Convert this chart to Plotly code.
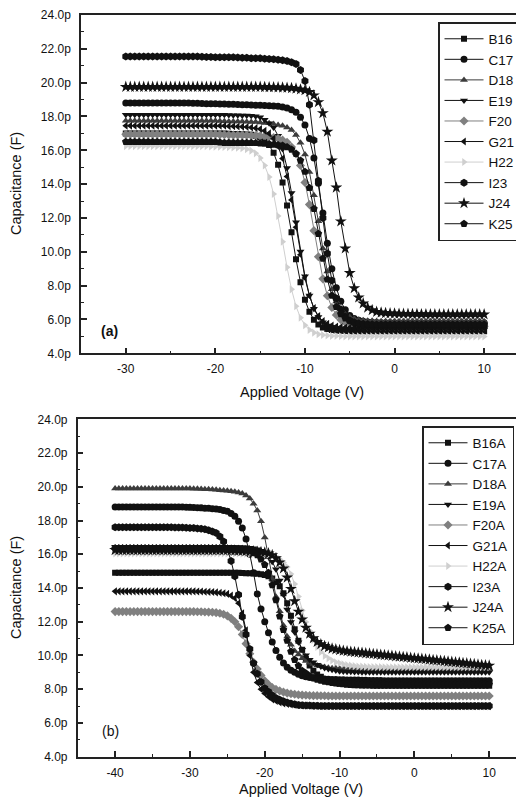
import plotly.graph_objects as go

# ---------------- Panel (a) data : voltage every 0.5 V from -30 to 10 ----------------
V_A = [-30, -29.5, -29, -28.5, -28, -27.5, -27, -26.5, -26, -25.5, -25, -24.5, -24, -23.5, -23, -22.5,
       -22, -21.5, -21, -20.5, -20, -19.5, -19, -18.5, -18, -17.5, -17, -16.5, -16, -15.5, -15,
       -14.5, -14, -13.5, -13, -12.5, -12, -11.5, -11, -10.5, -10, -9.5, -9, -8.5, -8, -7.5, -7,
       -6.5, -6, -5.5, -5, -4.5, -4, -3.5, -3, -2.5, -2, -1.5, -1, -0.5, 0, 0.5, 1, 1.5, 2, 2.5,
       3, 3.5, 4, 4.5, 5, 5.5, 6, 6.5, 7, 7.5, 8, 8.5, 9, 9.5, 10]

B16 = [17.0, 17.0, 17.0, 17.0, 17.0, 17.0, 17.0, 17.0, 17.0, 17.0,
       17.0, 17.0, 17.0, 17.0, 17.0, 17.0, 17.0, 17.0, 17.0, 17.0,
       17.0, 17.0, 17.0,
       16.98, 16.97, 16.96, 16.95, 16.94, 16.92, 16.86, 16.77,
       16.6, 16.31, 15.85, 15.14, 14.10, 12.74, 11.15, 9.56, 8.20, 7.16, 6.45, 5.99, 5.70, 5.53, 5.44,
       5.38, 5.35, 5.33, 5.32, 5.31, 5.30, 5.30,
       5.3, 5.3, 5.3, 5.3, 5.3, 5.3, 5.3, 5.3, 5.3, 5.3,
       5.3, 5.3, 5.3, 5.3, 5.3, 5.3, 5.3, 5.3, 5.3, 5.3,
       5.3, 5.3, 5.3, 5.3, 5.3, 5.3, 5.3, 5.3]
C17 = [18.8, 18.8, 18.8, 18.8, 18.8, 18.8, 18.8, 18.8, 18.8, 18.8,
       18.8, 18.8, 18.8, 18.8, 18.8,
       18.79, 18.78, 18.77, 18.76, 18.75, 18.75, 18.74, 18.74, 18.73, 18.72, 18.71, 18.7, 18.69, 18.68,
       18.67, 18.66,
       18.65, 18.64, 18.62, 18.6, 18.56, 18.5, 18.4, 18.25, 17.95, 17.5, 16.7, 15.55, 14.05, 12.3, 10.5,
       9.0, 7.87, 7.07, 6.57, 6.24, 6.06, 5.96,
       5.9, 5.85, 5.83, 5.82, 5.81, 5.81, 5.8,
       5.8, 5.8, 5.8, 5.8, 5.8, 5.8, 5.8, 5.8, 5.8, 5.8,
       5.8, 5.8, 5.8, 5.8, 5.8, 5.8, 5.8, 5.8, 5.8, 5.8, 5.8]
D18 = [17.75, 17.75, 17.75, 17.75, 17.75, 17.75, 17.75, 17.75, 17.75, 17.75,
       17.75, 17.75, 17.75, 17.75, 17.75, 17.75, 17.75, 17.75, 17.75, 17.75, 17.75,
       17.73, 17.72, 17.71, 17.7, 17.7, 17.7, 17.69, 17.68, 17.67, 17.65,
       17.62, 17.6, 17.55, 17.5, 17.45, 17.35, 17.2, 16.9, 16.45, 15.75, 14.72, 13.35, 11.8, 10.2, 8.83,
       7.78, 7.06, 6.6, 6.3, 6.14, 6.04, 5.98,
       5.95, 5.93, 5.92, 5.91, 5.9,
       5.9, 5.9, 5.9, 5.9, 5.9, 5.9, 5.9, 5.9, 5.9, 5.9,
       5.9, 5.9, 5.9, 5.9, 5.9, 5.9, 5.9, 5.9, 5.9, 5.9, 5.9, 5.9, 5.9]
E19 = [18.1, 18.1, 18.1, 18.1, 18.1, 18.1, 18.1, 18.1, 18.1, 18.1,
       18.1, 18.1, 18.1, 18.1, 18.1, 18.1, 18.1, 18.1, 18.1, 18.1,
       18.1, 18.1, 18.1,
       18.09, 18.08, 18.07, 18.06, 18.06, 18.05, 18.02, 17.95,
       17.8, 17.6, 17.35, 16.86, 16.08, 14.95, 13.48, 11.75, 10.02, 8.55, 7.42, 6.64, 6.15, 5.83, 5.65,
       5.55, 5.49, 5.45, 5.43, 5.42, 5.41, 5.4,
       5.4, 5.4, 5.4, 5.4, 5.4, 5.4, 5.4, 5.4, 5.4, 5.4,
       5.4, 5.4, 5.4, 5.4, 5.4, 5.4, 5.4, 5.4, 5.4, 5.4,
       5.4, 5.4, 5.4, 5.4, 5.4, 5.4, 5.4, 5.4]
F20 = [16.95, 16.95, 16.95, 16.95, 16.95, 16.95, 16.95, 16.95, 16.95, 16.95,
       16.95, 16.95, 16.95, 16.95, 16.95, 16.95, 16.95, 16.95, 16.95, 16.95, 16.95,
       16.93, 16.92, 16.91, 16.9, 16.9, 16.9, 16.89, 16.88, 16.87, 16.85,
       16.83, 16.8, 16.75, 16.7, 16.6, 16.48, 16.2, 15.79, 15.1, 14.1, 12.79, 11.25, 9.71, 8.4, 7.4,
       6.71, 6.27, 5.98, 5.83, 5.74, 5.68, 5.65,
       5.63, 5.62, 5.61, 5.61,
       5.6, 5.6, 5.6, 5.6, 5.6, 5.6, 5.6, 5.6, 5.6, 5.6,
       5.6, 5.6, 5.6, 5.6, 5.6, 5.6, 5.6, 5.6, 5.6, 5.6, 5.6, 5.6, 5.6, 5.6]
G21 = [17.45, 17.45, 17.45, 17.45, 17.45, 17.45, 17.45, 17.45, 17.45, 17.45,
       17.45, 17.45, 17.45, 17.45, 17.45, 17.45, 17.45, 17.45, 17.45, 17.45,
       17.45, 17.45, 17.45,
       17.43, 17.42, 17.41, 17.4, 17.38, 17.35, 17.31, 17.26,
       17.15, 17.0, 16.7, 16.23, 15.51, 14.45, 13.07, 11.45, 9.83, 8.45, 7.4, 6.67, 6.2, 5.9, 5.74,
       5.64, 5.58, 5.55, 5.53, 5.52, 5.51, 5.5,
       5.5, 5.5, 5.5, 5.5, 5.5, 5.5, 5.5, 5.5, 5.5, 5.5,
       5.5, 5.5, 5.5, 5.5, 5.5, 5.5, 5.5, 5.5, 5.5, 5.5,
       5.5, 5.5, 5.5, 5.5, 5.5, 5.5, 5.5, 5.5]
H22 = [16.25, 16.25, 16.25, 16.25, 16.25, 16.25, 16.25, 16.25, 16.25, 16.25,
       16.25, 16.25, 16.25, 16.25, 16.25, 16.25, 16.25, 16.25, 16.25,
       16.23, 16.22, 16.21, 16.2, 16.19, 16.17, 16.15, 16.12, 16.07, 15.98, 15.82, 15.54,
       15.1, 14.42, 13.42, 12.12, 10.6, 9.08, 7.78, 6.78, 6.1, 5.66, 5.38, 5.22, 5.13, 5.08, 5.05,
       5.03, 5.02, 5.01, 5.0, 5.0, 5.0, 5.0,
       5.0, 5.0, 5.0, 5.0, 5.0, 5.0, 5.0, 5.0, 5.0, 5.0,
       5.0, 5.0, 5.0, 5.0, 5.0, 5.0, 5.0, 5.0, 5.0, 5.0,
       5.0, 5.0, 5.0, 5.0, 5.0, 5.0, 5.0, 5.0]
I23 = [21.55, 21.55, 21.55, 21.55, 21.55, 21.55, 21.55, 21.55, 21.55, 21.55,
       21.55, 21.55, 21.55, 21.55, 21.55, 21.55, 21.55,
       21.53, 21.52, 21.51, 21.5, 21.5, 21.5, 21.5, 21.5, 21.49, 21.48, 21.47, 21.45, 21.45, 21.45,
       21.42, 21.4, 21.38, 21.35, 21.32, 21.28, 21.2, 21.1, 20.75, 20.1, 18.7, 16.6, 14.2, 12.0, 9.9,
       8.3, 7.25, 6.6, 6.18, 5.94, 5.8, 5.72,
       5.68, 5.65, 5.63, 5.62, 5.61, 5.61,
       5.6, 5.6, 5.6, 5.6, 5.6, 5.6, 5.6, 5.6, 5.6, 5.6,
       5.6, 5.6, 5.6, 5.6, 5.6, 5.6, 5.6, 5.6, 5.6, 5.6, 5.6, 5.6]
J24 = [19.75, 19.75, 19.75, 19.75, 19.75, 19.75, 19.75, 19.75, 19.75, 19.75,
       19.75, 19.75, 19.75, 19.75, 19.75, 19.75, 19.75, 19.75, 19.75, 19.75,
       19.75, 19.75, 19.75, 19.75, 19.75, 19.75, 19.75, 19.75, 19.75, 19.75, 19.75,
       19.74, 19.73, 19.73, 19.72, 19.71, 19.7, 19.68, 19.65, 19.6, 19.55, 19.45, 19.25, 18.85, 18.2,
       17.1, 15.4, 13.8, 11.8, 10.2, 8.75, 7.85, 7.3,
       6.95, 6.7, 6.55, 6.45, 6.41, 6.38, 6.36, 6.35, 6.34, 6.33, 6.33, 6.32, 6.32, 6.31, 6.31,
       6.3, 6.3, 6.3, 6.3, 6.3, 6.3, 6.3, 6.3, 6.3, 6.3, 6.3, 6.3, 6.3]
K25 = [16.5, 16.5, 16.5, 16.5, 16.5, 16.5, 16.5, 16.5, 16.5, 16.5,
       16.5, 16.5, 16.5, 16.5, 16.5, 16.5, 16.5, 16.5, 16.5, 16.5, 16.5,
       16.47, 16.45, 16.45, 16.45, 16.45, 16.45, 16.45, 16.45, 16.44, 16.42,
       16.4, 16.38, 16.35, 16.32, 16.28, 16.2, 16.05, 15.8, 15.4, 14.74, 13.78, 12.54, 11.07, 9.61, 8.37,
       7.41, 6.75, 6.33, 6.07, 5.91, 5.83, 5.78,
       5.75, 5.73, 5.72, 5.71, 5.7,
       5.7, 5.7, 5.7, 5.7, 5.7, 5.7, 5.7, 5.7, 5.7, 5.7,
       5.7, 5.7, 5.7, 5.7, 5.7, 5.7, 5.7, 5.7, 5.7, 5.7, 5.7, 5.7, 5.7]

# ---------------- Panel (b) data : voltage every 0.5 V from -40 to 10 ----------------
V_B = [-40, -39.5, -39, -38.5, -38, -37.5, -37, -36.5, -36, -35.5, -35, -34.5, -34, -33.5, -33,
       -32.5, -32, -31.5, -31, -30.5, -30, -29.5, -29, -28.5, -28, -27.5, -27, -26.5, -26, -25.5,
       -25, -24.5, -24, -23.5, -23, -22.5, -22, -21.5, -21, -20.5, -20, -19.5, -19, -18.5, -18,
       -17.5, -17, -16.5, -16, -15.5, -15, -14.5, -14, -13.5, -13, -12.5, -12, -11.5, -11, -10.5,
       -10, -9.5, -9, -8.5, -8, -7.5, -7, -6.5, -6, -5.5, -5, -4.5, -4, -3.5, -3, -2.5, -2, -1.5,
       -1, -0.5, 0, 0.5, 1, 1.5, 2, 2.5, 3, 3.5, 4, 4.5, 5, 5.5, 6, 6.5, 7, 7.5, 8, 8.5, 9, 9.5, 10]

B16A = [14.9, 14.9, 14.9, 14.9, 14.9, 14.9, 14.9, 14.9, 14.9, 14.9,
        14.9, 14.9, 14.9, 14.9, 14.9, 14.9, 14.9, 14.9, 14.9, 14.9,
        14.9, 14.9, 14.9, 14.9, 14.9, 14.9, 14.9, 14.9, 14.9, 14.9,
        14.9, 14.9, 14.9,
        14.9, 14.89, 14.88, 14.87, 14.86, 14.85, 14.82, 14.77, 14.69, 14.57,
        14.36, 14.1, 13.69, 13.09, 12.35, 11.55, 10.88, 10.34, 9.81, 9.41,
        9.1, 8.87, 8.74, 8.6, 8.5, 8.43, 8.38, 8.33, 8.3, 8.27, 8.25, 8.23,
        8.23, 8.22, 8.22, 8.22, 8.21, 8.21, 8.21, 8.2,
        8.2, 8.2, 8.2, 8.2, 8.2, 8.2, 8.2, 8.2, 8.2, 8.2,
        8.2, 8.2, 8.2, 8.2, 8.2, 8.2, 8.2, 8.2, 8.2, 8.2,
        8.2, 8.2, 8.2, 8.2, 8.2, 8.2, 8.2, 8.2]
C17A = [18.8, 18.8, 18.8, 18.8, 18.8, 18.8, 18.8, 18.8, 18.8, 18.8,
        18.8, 18.8, 18.8, 18.8, 18.8, 18.8, 18.8, 18.8, 18.8,
        18.79, 18.78, 18.77, 18.76, 18.75, 18.73, 18.72, 18.7, 18.68, 18.65,
        18.6, 18.55, 18.42, 18.25, 17.95, 17.55, 16.9, 16.0, 14.9, 13.65,
        12.75, 12.0, 11.35, 10.8, 10.3, 9.9, 9.55, 9.3, 9.12, 9.0,
        8.88, 8.8, 8.74, 8.7, 8.67, 8.65, 8.62, 8.6, 8.59, 8.58,
        8.57, 8.56, 8.56, 8.55, 8.55, 8.54, 8.54, 8.53, 8.53, 8.52,
        8.52, 8.51, 8.51, 8.5,
        8.5, 8.5, 8.5, 8.5, 8.5, 8.5, 8.5, 8.5, 8.5, 8.5,
        8.5, 8.5, 8.5, 8.5, 8.5, 8.5, 8.5, 8.5, 8.5, 8.5,
        8.5, 8.5, 8.5, 8.5, 8.5, 8.5, 8.5, 8.5]
D18A = [19.9, 19.9, 19.9, 19.9, 19.9, 19.9, 19.9, 19.9, 19.9, 19.9,
        19.9, 19.9, 19.9, 19.9, 19.9, 19.9, 19.9, 19.9, 19.9, 19.9, 19.9,
        19.89, 19.88, 19.87, 19.86, 19.85, 19.84, 19.82, 19.8, 19.78, 19.76,
        19.73, 19.7, 19.66, 19.6, 19.48, 19.3, 19.0, 18.6, 17.95, 17.0,
        15.83, 14.55, 13.48, 12.62, 11.77, 11.13, 10.64, 10.27, 10.06, 9.84,
        9.68, 9.57, 9.49, 9.41, 9.36, 9.31, 9.28, 9.25, 9.24, 9.23,
        9.23, 9.22, 9.22, 9.22, 9.21, 9.21, 9.21, 9.21, 9.2, 9.2,
        9.2, 9.2,
        9.2, 9.2, 9.2, 9.2, 9.2, 9.2, 9.2, 9.2, 9.2, 9.2,
        9.2, 9.2, 9.2, 9.2, 9.2, 9.2, 9.2, 9.2, 9.2, 9.2,
        9.2, 9.2, 9.2, 9.2, 9.2, 9.2, 9.2, 9.2]
E19A = [16.45, 16.45, 16.45, 16.45, 16.45, 16.45, 16.45, 16.45, 16.45, 16.45,
        16.45, 16.45, 16.45, 16.45, 16.45, 16.45, 16.45, 16.45, 16.45, 16.45,
        16.45, 16.45, 16.45, 16.45, 16.45, 16.45, 16.45, 16.45, 16.45,
        16.45, 16.44, 16.44, 16.43, 16.43, 16.42, 16.41, 16.39, 16.36, 16.3,
        16.21, 16.08, 15.85, 15.56, 15.11, 14.44, 13.62, 12.72, 11.98, 11.38,
        10.79, 10.34, 10.01, 9.74, 9.6, 9.45, 9.34, 9.26, 9.2, 9.15,
        9.11, 9.07, 9.05, 9.04, 9.03, 9.02, 9.02, 9.01, 9.01, 9.01,
        9.0, 9.0, 9.0, 9.0,
        9.0, 9.0, 9.0, 9.0, 9.0, 9.0, 9.0, 9.0, 9.0, 9.0,
        9.0, 9.0, 9.0, 9.0, 9.0, 9.0, 9.0, 9.0, 9.0, 9.0,
        9.0, 9.0, 9.0, 9.0, 9.0, 9.0, 9.0, 9.0]
F20A = [12.6, 12.6, 12.6, 12.6, 12.6, 12.6, 12.6, 12.6, 12.6, 12.6,
        12.6, 12.6, 12.6, 12.6, 12.6, 12.6, 12.6, 12.6, 12.6, 12.6, 12.6,
        12.6, 12.59, 12.59, 12.58, 12.57, 12.56, 12.54, 12.5, 12.44, 12.35,
        12.2, 12.0, 11.7, 11.25, 10.7, 10.1, 9.6, 9.2, 8.82, 8.5,
        8.28, 8.1, 7.99, 7.9, 7.83, 7.77, 7.73, 7.7, 7.67, 7.65,
        7.64, 7.63, 7.62, 7.62, 7.61, 7.61, 7.6, 7.6,
        7.6, 7.6, 7.6, 7.6, 7.6, 7.6, 7.6, 7.6, 7.6, 7.6,
        7.6, 7.6, 7.6, 7.6, 7.6, 7.6, 7.6, 7.6, 7.6, 7.6,
        7.6, 7.6, 7.6, 7.6, 7.6, 7.6, 7.6, 7.6, 7.6, 7.6,
        7.6, 7.6, 7.6, 7.6, 7.6, 7.6, 7.6, 7.6, 7.6, 7.6,
        7.6, 7.6]
G21A = [13.8, 13.8, 13.8, 13.8, 13.8, 13.8, 13.8, 13.8, 13.8, 13.8,
        13.8, 13.8, 13.8, 13.8, 13.8, 13.8, 13.8, 13.8, 13.8, 13.8, 13.8,
        13.8, 13.79, 13.79, 13.78, 13.77, 13.76, 13.74, 13.72, 13.69, 13.65,
        13.55, 13.4, 13.1, 12.5, 11.5, 10.0, 9.0, 8.4, 8.0, 7.75,
        7.55, 7.4, 7.3, 7.22, 7.16, 7.12, 7.09, 7.07, 7.05, 7.04,
        7.03, 7.02, 7.01, 7.01,
        7.0, 7.0, 7.0, 7.0, 7.0, 7.0, 7.0, 7.0, 7.0, 7.0,
        7.0, 7.0, 7.0, 7.0, 7.0, 7.0, 7.0, 7.0, 7.0, 7.0,
        7.0, 7.0, 7.0, 7.0, 7.0, 7.0, 7.0, 7.0, 7.0, 7.0,
        7.0, 7.0, 7.0, 7.0, 7.0, 7.0, 7.0, 7.0, 7.0, 7.0,
        7.0, 7.0, 7.0, 7.0, 7.0, 7.0]
H22A = [16.05, 16.05, 16.05, 16.05, 16.05, 16.05, 16.05, 16.05, 16.05, 16.05,
        16.05, 16.05, 16.05, 16.05, 16.05, 16.05, 16.05, 16.05, 16.05, 16.05,
        16.05, 16.05, 16.05, 16.05, 16.05, 16.05, 16.05, 16.05, 16.05, 16.05,
        16.05, 16.05, 16.05,
        16.05, 16.04, 16.04, 16.04, 16.03, 16.02, 16.01, 16.0, 15.97, 15.92,
        15.83, 15.71, 15.51, 15.24, 14.83, 14.23, 13.49, 12.67, 11.98, 11.46,
        10.92, 10.51, 10.21, 9.97, 9.84, 9.7, 9.6, 9.54, 9.48, 9.43,
        9.4, 9.37, 9.35, 9.34, 9.33, 9.32, 9.32, 9.31, 9.31, 9.3,
        9.3, 9.3, 9.3, 9.3, 9.3, 9.3, 9.3, 9.3, 9.3, 9.3,
        9.3, 9.3, 9.3, 9.3, 9.3, 9.3, 9.3, 9.3, 9.3, 9.3,
        9.3, 9.3, 9.3, 9.3, 9.3, 9.3, 9.3, 9.3]
I23A = [17.6, 17.6, 17.6, 17.6, 17.6, 17.6, 17.6, 17.6, 17.6, 17.6,
        17.6, 17.6, 17.6, 17.6, 17.6,
        17.6, 17.59, 17.59, 17.58, 17.57, 17.56, 17.55, 17.53, 17.51, 17.48,
        17.43, 17.35, 17.26, 17.05, 16.75, 16.3, 15.6, 14.7, 13.6, 12.3,
        11.24, 10.39, 9.54, 8.91, 8.43, 8.06, 7.85, 7.64, 7.48, 7.37,
        7.29, 7.21, 7.16, 7.11, 7.07, 7.05, 7.04, 7.03, 7.02, 7.02,
        7.01, 7.01,
        7.0, 7.0, 7.0, 7.0, 7.0, 7.0, 7.0, 7.0, 7.0, 7.0,
        7.0, 7.0, 7.0, 7.0, 7.0, 7.0, 7.0, 7.0, 7.0, 7.0,
        7.0, 7.0, 7.0, 7.0, 7.0, 7.0, 7.0, 7.0, 7.0, 7.0,
        7.0, 7.0, 7.0, 7.0, 7.0, 7.0, 7.0, 7.0, 7.0, 7.0,
        7.0, 7.0, 7.0, 7.0]
J24A = [16.25, 16.25, 16.25, 16.25, 16.25, 16.25, 16.25, 16.25, 16.25, 16.25,
        16.25, 16.25, 16.25, 16.25, 16.25, 16.25, 16.25, 16.25, 16.25, 16.25,
        16.25, 16.25, 16.25, 16.25, 16.25, 16.25, 16.25, 16.25, 16.25, 16.25, 16.25,
        16.23, 16.22, 16.21, 16.2, 16.19, 16.18, 16.17, 16.15, 16.13, 16.1,
        16.05, 15.95, 15.77, 15.52, 15.16, 14.62, 13.95, 13.22, 12.6, 12.14,
        11.65, 11.29, 11.02, 10.8, 10.67, 10.56, 10.48, 10.41, 10.36, 10.32,
        10.28, 10.25, 10.22, 10.2,
        10.18, 10.16, 10.13, 10.11, 10.09, 10.07, 10.04, 10.02, 10.0, 9.98,
        9.95, 9.93, 9.91, 9.89, 9.86, 9.84, 9.82, 9.8, 9.78, 9.76,
        9.73, 9.71, 9.69, 9.67, 9.64, 9.62, 9.6, 9.58, 9.55, 9.53,
        9.51, 9.49, 9.46, 9.44, 9.42, 9.4]
K25A = [16.35, 16.35, 16.35, 16.35, 16.35, 16.35, 16.35, 16.35, 16.35, 16.35,
        16.35, 16.35, 16.35, 16.35, 16.35, 16.35, 16.35, 16.35, 16.35, 16.35,
        16.35, 16.35, 16.35, 16.35, 16.35, 16.35, 16.35, 16.35, 16.35,
        16.34, 16.33, 16.33, 16.32, 16.31, 16.29, 16.25, 16.19, 16.09, 15.95,
        15.71, 15.38, 14.9, 14.18, 13.29, 12.32, 11.52, 10.88, 10.23, 9.75,
        9.39, 9.1, 8.94, 8.78, 8.67, 8.58, 8.52, 8.46, 8.42, 8.38,
        8.36, 8.34, 8.33, 8.32, 8.31, 8.31, 8.3,
        8.3, 8.3, 8.3, 8.3, 8.3, 8.3, 8.3, 8.3, 8.3, 8.3,
        8.3, 8.3, 8.3, 8.3, 8.3, 8.3, 8.3, 8.3, 8.3, 8.3,
        8.3, 8.3, 8.3, 8.3, 8.3, 8.3, 8.3, 8.3, 8.3, 8.3,
        8.3, 8.3, 8.3, 8.3, 8.3]

Y_TICKS = [4, 6, 8, 10, 12, 14, 16, 18, 20, 22, 24]
Y_TICK_TEXT = ["4.0p", "6.0p", "8.0p", "10.0p", "12.0p", "14.0p", "16.0p", "18.0p", "20.0p", "22.0p", "24.0p"]
XA_TICKS = [-30, -20, -10, 0, 10]
XA_TICK_TEXT = ["-30", "-20", "-10", "0", "10"]
XB_TICKS = [-40, -30, -20, -10, 0, 10]
XB_TICK_TEXT = ["-40", "-30", "-20", "-10", "0", "10"]

SERIES_A = [("B16", B16), ("C17", C17), ("D18", D18), ("E19", E19), ("F20", F20),
            ("G21", G21), ("H22", H22), ("I23", I23), ("J24", J24), ("K25", K25)]
SERIES_B = [("B16A", B16A), ("C17A", C17A), ("D18A", D18A), ("E19A", E19A), ("F20A", F20A),
            ("G21A", G21A), ("H22A", H22A), ("I23A", I23A), ("J24A", J24A), ("K25A", K25A)]

# style per legend slot: (symbol, colour, size)
STYLES = [("square", "#111111", 6), ("circle", "#111111", 7), ("triangle-up", "#3c3c3c", 7),
          ("triangle-down", "#111111", 7), ("diamond", "#808080", 7), ("triangle-left", "#111111", 7),
          ("triangle-right", "#cfcfcf", 7), ("hexagon", "#111111", 8), ("star", "#111111", 9),
          ("pentagon", "#111111", 8)]

for nm, ys in SERIES_A:
    assert len(ys) == len(V_A), (nm, len(ys))
for nm, ys in SERIES_B:
    assert len(ys) == len(V_B), (nm, len(ys))

fig = go.Figure()
for (name, ys), (sym, col, sz) in zip(SERIES_A, STYLES):
    fig.add_trace(go.Scatter(x=V_A, y=ys, name=name, mode="lines+markers", xaxis="x", yaxis="y",
                             legend="legend", line=dict(color=col, width=1),
                             marker=dict(symbol=sym, color=col, size=sz, line=dict(width=0))))
for (name, ys), (sym, col, sz) in zip(SERIES_B, STYLES):
    fig.add_trace(go.Scatter(x=V_B, y=ys, name=name, mode="lines+markers", xaxis="x2", yaxis="y2",
                             legend="legend2", line=dict(color=col, width=1),
                             marker=dict(symbol=sym, color=col, size=sz, line=dict(width=0))))

# The page body has an 8 px margin, so the figure is drawn 8 px in from the page corner.
OFF = 8
W, H = 524 - OFF, 799 - OFF


def px(x):
    return (x - OFF) / W


def py(y):
    return 1 - (y - OFF) / H


FONT = "Liberation Sans, Arial, sans-serif"
AX = dict(showline=True, linecolor="#222", linewidth=1.5, showgrid=False, zeroline=False,
          ticks="inside", ticklen=6, tickwidth=1.5, tickcolor="#222", automargin=False,
          tickfont=dict(family=FONT, size=12, color="#111"))
MINOR_X = dict(ticks="inside", ticklen=3, tickwidth=1.2, tickcolor="#222", dtick=5, tick0=0)
MINOR_Y = dict(ticks="inside", ticklen=3, tickwidth=1.2, tickcolor="#222", dtick=1, tick0=0)
LEG = dict(xanchor="right", yanchor="top", bgcolor="white", bordercolor="#222", borderwidth=1.5,
           font=dict(family=FONT, size=13.5, color="#111"), itemwidth=39, tracegroupgap=0)
TITLE_FONT = dict(family=FONT, size=14.5, color="#111")

fig.update_layout(
    width=W, height=H, margin=dict(l=0, r=0, t=0, b=0, autoexpand=False),
    paper_bgcolor="white", plot_bgcolor="white",
    font=dict(family=FONT, color="#111"),
    xaxis=dict(AX, domain=[px(81), 1], range=[-35, 14.45], anchor="y", mirror=True,
               tickvals=XA_TICKS, ticktext=XA_TICK_TEXT, ticklabelstandoff=4, minor=MINOR_X),
    yaxis=dict(AX, domain=[py(353.3), py(15)], range=[4, 24], anchor="x",
               tickvals=Y_TICKS, ticktext=Y_TICK_TEXT, ticklabelstandoff=6, minor=MINOR_Y),
    xaxis2=dict(AX, domain=[px(77.7), 1], range=[-45, 14.65], anchor="y2", mirror=True,
                tickvals=XB_TICKS, ticktext=XB_TICK_TEXT, ticklabelstandoff=4, minor=MINOR_X),
    yaxis2=dict(AX, domain=[py(756.7), py(419.3)], range=[4, 24], anchor="x2",
                tickvals=Y_TICKS, ticktext=Y_TICK_TEXT, ticklabelstandoff=6, minor=MINOR_Y),
    legend=dict(LEG, x=px(521), y=py(22)),
    legend2=dict(LEG, x=px(514), y=py(426)),
    annotations=[
        dict(text="<b>(a)</b>", x=-31.8, y=5.3, xref="x", yref="y", showarrow=False,
             xanchor="center", yanchor="middle", font=dict(family=FONT, size=14, color="#111")),
        dict(text="(b)", x=-40.6, y=5.5, xref="x2", yref="y2", showarrow=False,
             xanchor="center", yanchor="middle", font=dict(family=FONT, size=14, color="#111")),
        dict(text="Capacitance (F)", x=px(16), y=py(184), xref="paper", yref="paper",
             textangle=-90, showarrow=False, xanchor="center", yanchor="middle", font=TITLE_FONT),
        dict(text="Capacitance (F)", x=px(16), y=py(588), xref="paper", yref="paper",
             textangle=-90, showarrow=False, xanchor="center", yanchor="middle", font=TITLE_FONT),
        dict(text="Applied Voltage (V)", x=px(302), y=py(392), xref="paper", yref="paper",
             showarrow=False, xanchor="center", yanchor="middle", font=TITLE_FONT),
        dict(text="Applied Voltage (V)", x=px(301), y=py(789), xref="paper", yref="paper",
             showarrow=False, xanchor="center", yanchor="middle", font=TITLE_FONT),
    ],
)

fig.write_html("out.html")
